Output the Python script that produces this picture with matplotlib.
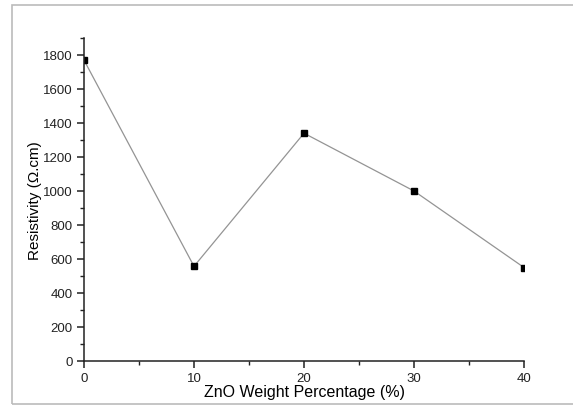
import matplotlib
matplotlib.use("Agg")
import matplotlib.pyplot as plt
from matplotlib.patches import Rectangle
from matplotlib.ticker import MultipleLocator

# data
zno_pct = [0, 10, 20, 30, 40]
resistivity = [1770, 557, 1340, 1000, 550]

plt.rcParams['font.family'] = ['Liberation Sans', 'DejaVu Sans']

fig = plt.figure(figsize=(5.73, 4.10), dpi=100)
ax = fig.add_axes([84 / 573, 1 - 362 / 410, 440 / 573, 323 / 410])

# light grey outer frame
fig.patches.append(Rectangle((12 / 573, 1 - 405 / 410), 1.0, 399 / 410,
                             transform=fig.transFigure, fill=False,
                             edgecolor='#bbbbbb', linewidth=1.2))

ax.plot(zno_pct, resistivity, color='#949494', linewidth=0.9,
        marker='s', markersize=5, markerfacecolor='black',
        markeredgecolor='black')

ax.set_xlim(0, 40)
ax.set_ylim(0, 1900)
ax.xaxis.set_major_locator(MultipleLocator(10))
ax.xaxis.set_minor_locator(MultipleLocator(5))
ax.yaxis.set_major_locator(MultipleLocator(200))
ax.yaxis.set_minor_locator(MultipleLocator(100))

for side in ['top', 'right']:
    ax.spines[side].set_visible(False)
for side in ['left', 'bottom']:
    ax.spines[side].set_linewidth(1.1)
    ax.spines[side].set_color('#222222')

ax.tick_params(which='major', direction='out', length=5, width=1.1,
               labelsize=9.5, colors='#222222', pad=3)
ax.tick_params(which='minor', direction='out', length=3, width=1.0,
               colors='#222222')

ax.set_xlabel("ZnO Weight Percentage (%)", fontsize=11.5, labelpad=0)
ax.set_ylabel("Resistivity (\u03a9.cm)", fontsize=11, labelpad=1)

fig.savefig("out.png", dpi=100)
